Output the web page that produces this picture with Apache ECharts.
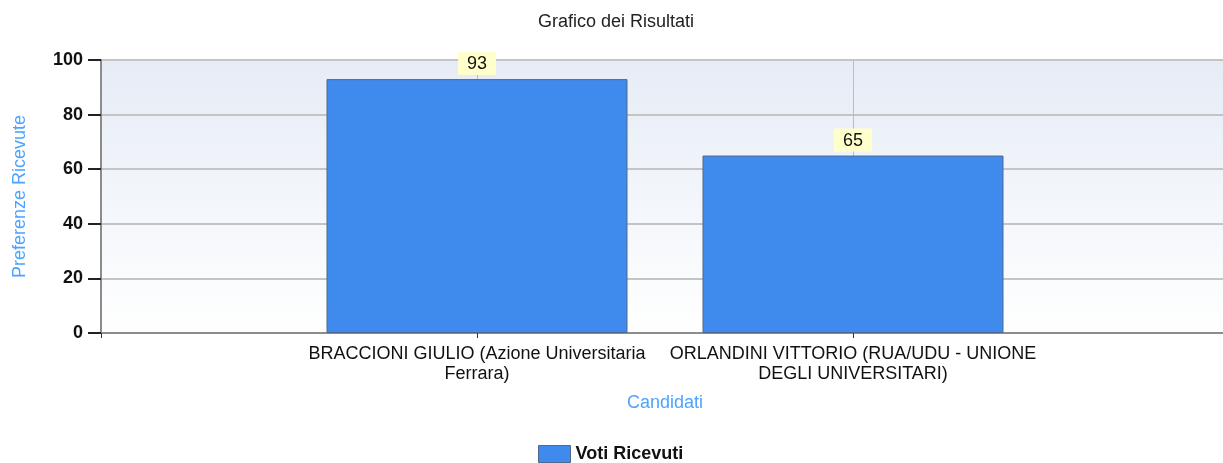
<!DOCTYPE html>
<html>
<head>
<meta charset="utf-8">
<script src="https://cdn.jsdelivr.net/npm/echarts@6/dist/echarts.min.js"></script>
<style>
  html, body { margin: 0; padding: 0; background: #fff; overflow: hidden; }
  /* il grafico originale e' tagliato a destra: il canvas e' un po' piu largo della finestra */
  #chart { width: 1232px; height: 463px; }
</style>
</head>
<body>
<div id="chart"></div>
<script>
// candidati e voti
var candidati = [
    'BRACCIONI GIULIO (Azione Universitaria\nFerrara)',
    'ORLANDINI VITTORIO (RUA/UDU - UNIONE\nDEGLI UNIVERSITARI)'
]
var voti = [93, 65]
var yMin = 0
var yMax = 100
var yStep = 20

// slot vuoti ai lati, come nel grafico originale
var xCats = [''].concat(candidati).concat([''])
var xVals = ['-'].concat(voti).concat(['-'])

var chart = echarts.init(document.getElementById('chart'), null, { renderer: 'canvas' })

var font = 'Liberation Sans, Arial, sans-serif'
var option = {
    animation: false,
    textStyle: { fontFamily: font },
    title: {
        text: 'Grafico dei Risultati',
        left: 'center',
        top: 8,
        textStyle: { fontSize: 18, fontWeight: 'normal', color: '#222' }
    },
    legend: {
        left: 538,
        top: 445,
        padding: 0,
        icon: 'rect',
        itemWidth: 32,
        itemHeight: 17,
        itemGap: 8,
        textStyle: { fontSize: 18, fontWeight: 'bold', color: '#111' },
        itemStyle: { borderColor: '#50698a', borderWidth: 1 },
        data: ['Voti Ricevuti']
    },
    grid: {
        left: 101,
        top: 60,
        right: 0,
        bottom: 130,
        show: true,
        borderColor: '#a0a0a0',
        borderWidth: 2,
        backgroundColor: {
            type: 'linear', x: 0, y: 0, x2: 0, y2: 1,
            colorStops: [
                { offset: 0, color: '#e6ecf6' },
                { offset: 1, color: '#ffffff' }
            ]
        }
    },
    xAxis: {
        type: 'category',
        boundaryGap: false,
        data: xCats,
        name: 'Candidati',
        nameLocation: 'middle',
        nameGap: 61,
        nameTextStyle: { color: '#4da3ff', fontSize: 18 },
        axisLine: { lineStyle: { color: '#8c8c8c', width: 2 } },
        axisTick: { show: true, length: 5, lineStyle: { color: '#333' } },
        axisLabel: { interval: 0, fontSize: 18, color: '#111', lineHeight: 20, margin: 11 },
        splitLine: { show: true, lineStyle: { color: '#bdbdbd', width: 1 } }
    },
    yAxis: {
        type: 'value',
        min: yMin,
        max: yMax,
        interval: yStep,
        name: 'Preferenze Ricevute',
        nameLocation: 'middle',
        nameGap: 72,
        nameTextStyle: { color: '#4da3ff', fontSize: 18 },
        axisLine: { show: true, lineStyle: { color: '#8c8c8c', width: 2 } },
        axisTick: { show: true, length: 13, lineStyle: { color: '#222', width: 2 } },
        axisLabel: { fontSize: 18, fontWeight: 'bold', color: '#111', margin: 18 },
        splitLine: { show: true, lineStyle: { color: '#c4c4c4', width: 2 } }
    },
    series: [
        {
            name: 'Voti Ricevuti',
            type: 'bar',
            data: xVals,
            barWidth: 301,
            itemStyle: { color: '#3f8bed', borderColor: '#50698a', borderWidth: 1 },
            label: {
                show: true,
                position: 'top',
                distance: 4,
                fontSize: 18,
                color: '#111',
                backgroundColor: '#ffffcc',
                padding: [3, 9, 2, 9]
            }
        }
    ]
}
chart.setOption(option)
</script>
</body>
</html>
